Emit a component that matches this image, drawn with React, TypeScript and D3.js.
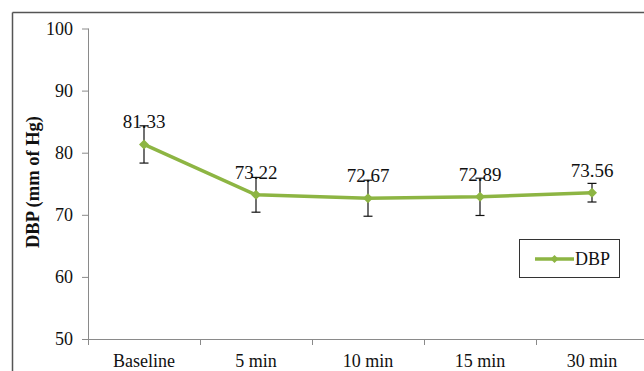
import React from "react";
import * as d3 from "d3";

const categories = ["Baseline", "5 min", "10 min", "15 min", "30 min"];
const dbp = [81.33, 73.22, 72.67, 72.89, 73.56];
const errors = [3.0, 2.8, 2.9, 3.0, 1.5];
const yTicks = [50, 60, 70, 80, 90, 100];
const valueLabels = ["81.33", "73.22", "72.67", "72.89", "73.56"];

const W = 644;
const H = 371;
const FONT = '"Liberation Serif", "DejaVu Serif", "Times New Roman", serif';
const GREEN = "#8DB543";
const AXIS = "#8a8a8a";
const tstyle = { fontFamily: FONT };

export default function App() {
  const left = 88;
  const right = 648;
  const top = 28.5;
  const bottom = 339;

  const x = d3.scaleBand<string>().domain(categories).range([left, right]);
  const y = d3.scaleLinear().domain([50, 100]).range([bottom, top]);
  const cx = (c: string) => (x(c) as number) + x.bandwidth() / 2;

  const line = d3
    .line<number>()
    .x((_, i) => cx(categories[i]))
    .y((d) => y(d));

  const boundaries = categories
    .map((c) => x(c) as number)
    .concat([right])
    .filter((b) => b < W);

  return (
    <svg
      width={W}
      height={H}
      style={{ position: "absolute", left: 0, top: 0, background: "#fff", fontFamily: FONT }}
    >
      <rect x={0} y={0} width={W} height={H} fill="#fff" />
      <line x1={12.5} x2={W} y1={12.5} y2={12.5} stroke="#555" strokeWidth={1.5} />
      <line x1={12.5} x2={12.5} y1={12.5} y2={H} stroke="#555" strokeWidth={1.5} />

      <line x1={left + 0.5} x2={left + 0.5} y1={top} y2={bottom} stroke={AXIS} strokeWidth={1} />
      {yTicks.map((t) => (
        <g key={t}>
          <line x1={left - 6} x2={left + 0.5} y1={y(t) + 0.5} y2={y(t) + 0.5} stroke={AXIS} strokeWidth={1} />
          <text x={left - 15} y={y(t)} dy="0.35em" textAnchor="end" fontSize={18} fill="#111" style={tstyle}>
            {t}
          </text>
        </g>
      ))}

      <line x1={left} x2={W} y1={bottom + 0.5} y2={bottom + 0.5} stroke={AXIS} strokeWidth={1} />
      {boundaries.map((b, i) => (
        <line key={i} x1={b + 0.5} x2={b + 0.5} y1={bottom} y2={bottom + 6} stroke={AXIS} strokeWidth={1} />
      ))}
      {categories.map((c) => (
        <text key={c} x={cx(c)} y={bottom + 28} textAnchor="middle" fontSize={18} fill="#111" style={tstyle}>
          {c}
        </text>
      ))}

      <text
        transform={`translate(38.5,182) rotate(-90)`}
        textAnchor="middle"
        fontSize={18.5}
        fontWeight="bold"
        fill="#111"
        style={tstyle}
      >
        DBP (mm of Hg)
      </text>

      <path d={line(dbp) || ""} fill="none" stroke={GREEN} strokeWidth={3.5} strokeLinejoin="round" />

      {dbp.map((v, i) => {
        const px = cx(categories[i]);
        const y1 = y(v + errors[i]);
        const y2 = y(v - errors[i]);
        return (
          <g key={i} stroke="#111" strokeWidth={1.2}>
            <line x1={px} x2={px} y1={y1} y2={y2} />
            <line x1={px - 4.5} x2={px + 4.5} y1={y1} y2={y1} />
            <line x1={px - 4.5} x2={px + 4.5} y1={y2} y2={y2} />
          </g>
        );
      })}

      {dbp.map((v, i) => {
        const px = cx(categories[i]);
        const py = y(v);
        const s = 5;
        return (
          <path
            key={i}
            d={`M${px},${py - s}L${px + s},${py}L${px},${py + s}L${px - s},${py}Z`}
            fill={GREEN}
          />
        );
      })}

      {dbp.map((v, i) => (
        <text key={i} x={cx(categories[i])} y={y(v) - 16} textAnchor="middle" fontSize={19} fill="#111" style={tstyle}>
          {valueLabels[i]}
        </text>
      ))}

      <rect x={519.5} y={239.5} width={100} height={38} fill="#fff" stroke="#333" strokeWidth={1} />
      <line x1={535} x2={574} y1={259} y2={259} stroke={GREEN} strokeWidth={3.5} />
      <path d={`M554.5,255L558.5,259L554.5,263L550.5,259Z`} fill={GREEN} />
      <text x={575} y={265} fontSize={18} fill="#111" style={tstyle}>
        DBP
      </text>
    </svg>
  );
}
